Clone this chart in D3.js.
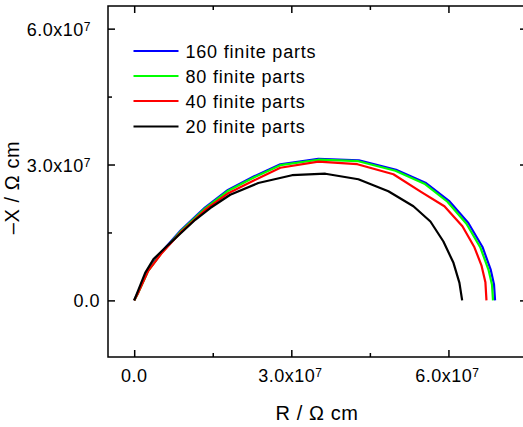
<!DOCTYPE html>
<html><head><meta charset="utf-8">
<script src="https://cdn.jsdelivr.net/npm/d3@7"></script>
<style>
body{margin:0;background:#fff;}
svg text{font-family:"Liberation Sans",Arial,sans-serif;fill:#000;}
</style></head><body>
<svg id="c" width="523" height="427"></svg>
<script>
// Data (units of 1e6 Ω cm)
const seriesNames = ["160 finite parts","80 finite parts","40 finite parts","20 finite parts"];
const seriesColors = ["#0000ff","#00ff00","#ff0000","#000000"];
const R160 = [0,0.70,2.6,5.1,8.9,13.5,17.9,22.9,27.9,35.16,42.9,50.0,55.6,60.1,63.8,66.5,68.05,68.7,68.9];
const X160 = [0,1.70,6.6,10.5,15.5,20.5,24.4,27.4,30.05,31.25,30.93,28.85,25.98,21.98,17.1,11.8,6.85,3.5,0];
const R80 = [0,0.76,2.68,5.16,8.98,13.57,17.97,22.93,27.90,35.16,42.80,49.87,55.41,59.81,63.44,66.12,67.65,68.32,68.51];
const X80 = [0,1.66,6.52,10.39,15.36,20.34,24.21,27.19,29.85,31.06,30.73,28.63,25.76,21.78,16.91,11.61,6.74,3.43,0];
const R40 = [0,0.76,2.68,5.16,8.98,13.57,17.97,22.93,27.90,35.16,42.61,49.49,54.84,59.23,62.67,64.96,66.30,67.06,67.26];
const X40 = [0,1.66,6.52,10.28,15.14,20.01,23.66,26.53,29.29,30.62,30.07,27.86,23.90,20.78,16.36,11.72,7.74,3.98,0];
const R20 = [0,2.10,3.69,6.50,8.79,11.66,14.52,18.34,23.69,30.13,36.50,42.80,48.53,53.31,56.56,59.04,60.96,62.10,62.62];
const X20 = [0,6.08,9.11,12.27,14.70,17.80,20.39,23.33,25.91,27.64,27.97,26.75,24.10,20.78,17.42,13.00,8.29,3.87,0];
const majorTicks = [0, 30e6, 60e6];
const minorTicks = [15e6, 45e6];
const tickLabels = [{base:"0.0",exp:""},{base:"3.0x10",exp:"7"},{base:"6.0x10",exp:"7"}];
const xTitle = "R / Ω cm";
const yTitle = "–X / Ω cm";

const svg = d3.select("#c");
const L=108, Rt=527, T=6, B=357;
const x = d3.scaleLinear().domain([-5e6, 75e6]).range([L, Rt]);
const y = d3.scaleLinear().domain([-12.5e6, 65e6]).range([B, T]);

// Ticks (inward) on all four sides
function ticks(axisGen, tr, vals, size){
  svg.append("g").attr("transform", tr)
    .call(axisGen.tickValues(vals).tickSizeInner(-size).tickSizeOuter(0).tickFormat(""))
    .call(g=>g.select(".domain").remove())
    .call(g=>g.selectAll("line").attr("stroke","#000").attr("stroke-width",1.5));
}
ticks(d3.axisBottom(x), `translate(0,${B})`, majorTicks, 7);
ticks(d3.axisBottom(x), `translate(0,${B})`, minorTicks, 4);
ticks(d3.axisTop(x), `translate(0,${T})`, majorTicks, 7);
ticks(d3.axisTop(x), `translate(0,${T})`, minorTicks, 4);
ticks(d3.axisLeft(y), `translate(${L},0)`, majorTicks, 7);
ticks(d3.axisLeft(y), `translate(${L},0)`, minorTicks, 4);
ticks(d3.axisRight(y), `translate(${Rt},0)`, majorTicks, 7);
ticks(d3.axisRight(y), `translate(${Rt},0)`, minorTicks, 4);

svg.append("rect").attr("x",L).attr("y",T).attr("width",Rt-L).attr("height",B-T)
  .attr("fill","none").attr("stroke","#000").attr("stroke-width",1.5);

// Tick labels
function label(g, lab){
  g.append("tspan").text(lab.base);
  if(lab.exp) g.append("tspan").attr("font-size","12px").attr("dy","-5").text(lab.exp);
}
majorTicks.forEach((v,i)=>{
  const t = svg.append("text").attr("x", x(v)+ (tickLabels[i].exp? -1:0)).attr("y", B+25)
    .attr("text-anchor","middle").attr("font-size","18px").attr("letter-spacing","0.5px");
  label(t, tickLabels[i]);
  const t2 = svg.append("text").attr("x", tickLabels[i].exp ? 91 : 100).attr("y", y(v)+7)
    .attr("text-anchor","end").attr("font-size","18px").attr("letter-spacing","0.5px");
  label(t2, tickLabels[i]);
});

// Titles
svg.append("text").attr("x",317).attr("y",420).attr("text-anchor","middle")
  .attr("font-size","20px").attr("letter-spacing","0.6px").text(xTitle);
svg.append("text").attr("transform","translate(18.5,187.5) rotate(-90)").attr("text-anchor","middle")
  .attr("font-size","20px").attr("letter-spacing","0.6px").text(yTitle);

// Curves (draw black last)
const all = [[R160,X160],[R80,X80],[R40,X40],[R20,X20]];
const line = d3.line().x(d=>x(d[0]*1e6)).y(d=>y(d[1]*1e6));
const clip = svg.append("clipPath").attr("id","cp").append("rect")
  .attr("x",L).attr("y",T).attr("width",Rt-L).attr("height",B-T);
all.forEach((s,i)=>{
  const pts = s[0].map((r,k)=>[r, s[1][k]]);
  svg.append("path").attr("d", line(pts)).attr("fill","none")
    .attr("stroke", seriesColors[i]).attr("stroke-width",2.2)
    .attr("stroke-linejoin","round").attr("clip-path","url(#cp)");
});

// Legend
const lg = svg.append("g");
const ly = [51, 76, 101, 126.5];
seriesNames.forEach((n,i)=>{
  lg.append("line").attr("x1",133.5).attr("x2",178.5).attr("y1",ly[i]).attr("y2",ly[i])
    .attr("stroke",seriesColors[i]).attr("stroke-width",2.2);
  lg.append("text").attr("x",185.5).attr("y",ly[i]+6.5).attr("font-size","18px")
    .attr("letter-spacing","0.8px").text(n);
});
</script></body></html>
